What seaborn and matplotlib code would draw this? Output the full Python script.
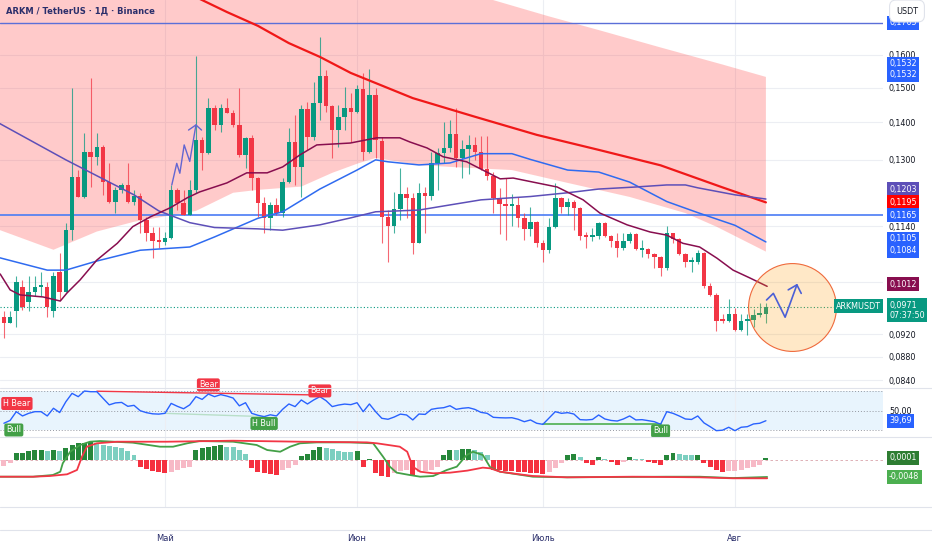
import numpy as np
import pandas as pd
import seaborn as sns
import matplotlib.pyplot as plt
from matplotlib.lines import Line2D
from matplotlib.ticker import NullLocator

# ---- data (ARKM/USDT, daily) ----
dates = pd.date_range("2025-04-05", "2025-08-06", freq="D")

opens = [
    0.0953, 0.0942, 0.0963, 0.1011, 0.0982, 0.1001, 0.1010, 0.1011, 0.0963, 0.1042,
    0.1001, 0.1131, 0.1257, 0.1209, 0.1321, 0.1308, 0.1334, 0.1245, 0.1197, 0.1225,
    0.1237, 0.1197, 0.1210, 0.1154, 0.1125, 0.1108, 0.1104, 0.1113, 0.1225, 0.1193,
    0.1166, 0.1225, 0.1352, 0.1317, 0.1440, 0.1393, 0.1440, 0.1427, 0.1393, 0.1313,
    0.1357, 0.1253, 0.1193, 0.1158, 0.1189, 0.1170, 0.1243, 0.1348, 0.1281, 0.1437,
    0.1361, 0.1456, 0.1535, 0.1446, 0.1379, 0.1414, 0.1441, 0.1430, 0.1495, 0.1321,
    0.1478, 0.1350, 0.1162, 0.1140, 0.1179, 0.1215, 0.1205, 0.1103, 0.1217, 0.1211,
    0.1291, 0.1317, 0.1331, 0.1368, 0.1304, 0.1328, 0.1339, 0.1321, 0.1276, 0.1259,
    0.1205, 0.1191, 0.1187, 0.1190, 0.1158, 0.1134, 0.1150, 0.1102, 0.1088, 0.1139,
    0.1205, 0.1185, 0.1195, 0.1181, 0.1119, 0.1115, 0.1117, 0.1148, 0.1117, 0.1106,
    0.1091, 0.1107, 0.1123, 0.1088, 0.1090, 0.1079, 0.1072, 0.1049, 0.1124, 0.1112,
    0.1079, 0.1061, 0.1061, 0.1082, 0.1013, 0.0995, 0.0946, 0.0944, 0.0959, 0.0928,
    0.0944, 0.0946, 0.0956, 0.0959]
highs = [
    0.0963, 0.0963, 0.1032, 0.1025, 0.1032, 0.1032, 0.1042, 0.1021, 0.1042, 0.1080,
    0.1147, 0.1498, 0.1274, 0.1370, 0.1528, 0.1370, 0.1339, 0.1291, 0.1233, 0.1241,
    0.1291, 0.1225, 0.1217, 0.1162, 0.1139, 0.1139, 0.1128, 0.1237, 0.1229, 0.1225,
    0.1249, 0.1597, 0.1361, 0.1469, 0.1449, 0.1452, 0.1469, 0.1435, 0.1498, 0.1361,
    0.1366, 0.1257, 0.1209, 0.1197, 0.1205, 0.1253, 0.1384, 0.1421, 0.1449, 0.1459,
    0.1518, 0.1657, 0.1553, 0.1449, 0.1449, 0.1503, 0.1483, 0.1508, 0.1543, 0.1555,
    0.1498, 0.1359, 0.1177, 0.1221, 0.1279, 0.1233, 0.1217, 0.1241, 0.1233, 0.1321,
    0.1330, 0.1402, 0.1407, 0.1440, 0.1352, 0.1366, 0.1361, 0.1363, 0.1363, 0.1270,
    0.1229, 0.1253, 0.1215, 0.1209, 0.1170, 0.1185, 0.1151, 0.1109, 0.1158, 0.1241,
    0.1209, 0.1206, 0.1201, 0.1185, 0.1128, 0.1135, 0.1150, 0.1150, 0.1120, 0.1124,
    0.1124, 0.1128, 0.1124, 0.1109, 0.1091, 0.1080, 0.1074, 0.1140, 0.1125, 0.1113,
    0.1081, 0.1073, 0.1088, 0.1084, 0.1018, 0.0999, 0.0959, 0.0986, 0.0969, 0.0959,
    0.0959, 0.0967, 0.0979, 0.0980]
lows = [
    0.0913, 0.0941, 0.0934, 0.0966, 0.0963, 0.0992, 0.0992, 0.0953, 0.0953, 0.0985,
    0.1000, 0.1109, 0.1208, 0.1205, 0.1233, 0.1287, 0.1213, 0.1193, 0.1170, 0.1217,
    0.1193, 0.1189, 0.1124, 0.1106, 0.1070, 0.1091, 0.1098, 0.1112, 0.1177, 0.1165,
    0.1165, 0.1217, 0.1274, 0.1316, 0.1379, 0.1375, 0.1426, 0.1388, 0.1308, 0.1279,
    0.1225, 0.1162, 0.1124, 0.1131, 0.1166, 0.1162, 0.1241, 0.1237, 0.1209, 0.1326,
    0.1352, 0.1407, 0.1430, 0.1304, 0.1334, 0.1379, 0.1348, 0.1426, 0.1300, 0.1317,
    0.1304, 0.1102, 0.1063, 0.1124, 0.1154, 0.1158, 0.1079, 0.1102, 0.1124, 0.1201,
    0.1225, 0.1291, 0.1321, 0.1283, 0.1253, 0.1264, 0.1300, 0.1274, 0.1249, 0.1170,
    0.1123, 0.1109, 0.1140, 0.1139, 0.1109, 0.1117, 0.1095, 0.1061, 0.1082, 0.1135,
    0.1170, 0.1166, 0.1131, 0.1109, 0.1091, 0.1106, 0.1111, 0.1116, 0.1095, 0.1072,
    0.1088, 0.1103, 0.1088, 0.1073, 0.1070, 0.1049, 0.1032, 0.1045, 0.1103, 0.1077,
    0.1052, 0.1042, 0.1058, 0.1008, 0.0992, 0.0926, 0.0942, 0.0943, 0.0927, 0.0927,
    0.0919, 0.0934, 0.0953, 0.0942]
closes = [
    0.0942, 0.0952, 0.1021, 0.0972, 0.1001, 0.1011, 0.1013, 0.0972, 0.1032, 0.1001,
    0.1131, 0.1257, 0.1209, 0.1321, 0.1308, 0.1334, 0.1245, 0.1197, 0.1225, 0.1237,
    0.1197, 0.1210, 0.1154, 0.1125, 0.1108, 0.1104, 0.1113, 0.1225, 0.1193, 0.1166,
    0.1225, 0.1352, 0.1317, 0.1440, 0.1393, 0.1440, 0.1427, 0.1393, 0.1313, 0.1357,
    0.1253, 0.1193, 0.1158, 0.1189, 0.1170, 0.1243, 0.1348, 0.1281, 0.1437, 0.1361,
    0.1456, 0.1535, 0.1446, 0.1379, 0.1414, 0.1441, 0.1430, 0.1495, 0.1321, 0.1478,
    0.1352, 0.1162, 0.1140, 0.1179, 0.1215, 0.1205, 0.1103, 0.1217, 0.1211, 0.1291,
    0.1317, 0.1331, 0.1368, 0.1304, 0.1328, 0.1339, 0.1321, 0.1276, 0.1259, 0.1205,
    0.1191, 0.1187, 0.1190, 0.1158, 0.1134, 0.1150, 0.1102, 0.1088, 0.1139, 0.1205,
    0.1185, 0.1195, 0.1181, 0.1119, 0.1115, 0.1117, 0.1148, 0.1117, 0.1106, 0.1091,
    0.1107, 0.1123, 0.1089, 0.1090, 0.1079, 0.1073, 0.1049, 0.1124, 0.1112, 0.1079,
    0.1061, 0.1063, 0.1082, 0.1013, 0.0995, 0.0945, 0.0944, 0.0959, 0.0928, 0.0944,
    0.0947, 0.0956, 0.0959, 0.0971]

rsi = [
    37.1, 40.0, 49.0, 44.6, 47.3, 49.0, 49.0, 44.6, 52.5, 48.1,
    59.2, 67.8, 64.4, 70.2, 69.5, 69.5, 62.7, 56.0, 58.0, 58.5,
    54.5, 55.5, 50.0, 48.0, 46.8, 46.5, 47.3, 57.5, 54.5, 52.0,
    56.0, 64.4, 61.6, 67.1, 64.4, 66.5, 65.0, 63.0, 55.0, 58.2,
    47.3, 45.3, 43.9, 45.8, 44.6, 51.5, 56.9, 54.2, 61.0, 56.9,
    61.0, 64.4, 60.3, 54.2, 55.8, 56.8, 56.2, 58.2, 49.0, 56.9,
    49.0, 42.2, 41.2, 43.5, 46.5, 45.6, 40.5, 46.6, 46.2, 51.4,
    52.5, 53.1, 55.1, 51.4, 52.5, 53.1, 51.4, 48.3, 47.3, 43.2,
    42.8, 42.6, 42.8, 41.2, 38.7, 40.5, 37.1, 36.0, 42.5, 49.0,
    47.3, 48.0, 46.6, 40.8, 40.5, 41.0, 45.6, 41.5, 40.0, 39.4,
    41.5, 44.6, 40.5, 40.8, 39.8, 38.7, 36.0, 49.0, 47.3, 44.6,
    41.5, 41.0, 44.6, 37.5, 33.6, 29.5, 30.0, 33.0, 29.5, 33.0,
    33.6, 36.4, 37.1, 39.69]

# MACD histogram, in units of 0.001
hist = [
    -1.7, -0.9, 2.1, 2.1, 2.5, 2.8, 2.8, 2.5, 2.8, 2.6,
    3.5, 4.2, 4.7, 4.9, 5.0, 4.7, 4.2, 4.0, 3.6, 3.3,
    2.6, 1.4, -2.1, -2.6, -3.1, -3.3, -3.8, -3.3, -2.8, -2.4,
    -1.9, 2.8, 3.3, 3.8, 4.0, 4.1, 3.8, 3.7, 2.8, 1.7,
    -2.4, -3.3, -3.8, -4.0, -4.1, -2.8, -2.4, -1.4, 1.1, 1.7,
    2.8, 3.6, 3.3, 3.0, 2.6, 2.4, 2.3, 2.6, -1.9, 0.2,
    -3.8, -4.5, -4.7, -3.8, -3.0, -2.8, -4.2, -3.3, -3.1, -2.8,
    -1.9, 1.5, 2.8, 2.7, 3.0, 3.1, 2.8, 2.4, 1.4, -2.8,
    -2.9, -3.0, -3.1, -3.3, -3.4, -3.6, -3.8, -3.9, -3.3, -2.4,
    -0.9, 1.4, 1.7, 0.9, -0.8, -1.4, 0.8, 0.3, -0.5, -1.4,
    -0.5, 0.9, 0.3, 0.2, -0.5, -0.8, -1.4, 1.4, 2.1, 1.7,
    1.5, 1.4, 1.5, -0.9, -1.9, -2.8, -3.3, -3.2, -3.1, -2.8,
    -2.4, -1.9, -1.4, 0.6]

# indicator lines, sampled: day offset from 1 May -> value
red_ma_day = [4, 10, 15, 20, 25, 30, 40, 50, 60, 70, 80, 90, 97]
red_ma_val = [0.1805, 0.1742, 0.1695, 0.1638, 0.1594, 0.1544, 0.1469, 0.1416,
              0.1366, 0.1326, 0.1286, 0.1231, 0.1195]

blue_ma_day = [-27, -19, -16, -11, -4, 4, 8, 15, 19, 25, 31, 34, 36, 41, 46, 51,
               56, 59, 65, 70, 75, 81, 86, 92, 97]
blue_ma_val = [0.1072, 0.1045, 0.1045, 0.1064, 0.1087, 0.1094, 0.1116, 0.1158,
               0.1173, 0.1227, 0.1274, 0.1300, 0.1295, 0.1287, 0.1292, 0.1316,
               0.1316, 0.1301, 0.1274, 0.1269, 0.1244, 0.1197, 0.1171, 0.1142, 0.1105]

purple_ma_day = [-27, -16, -5, -1, 4, 8, 15, 19, 25, 30, 34, 41, 46, 51, 56, 59,
                 65, 70, 76, 81, 84, 86, 92, 97]
purple_ma_val = [0.1400, 0.1300, 0.1213, 0.1175, 0.1148, 0.1137, 0.1134, 0.1131,
                 0.1143, 0.1159, 0.1173, 0.1177, 0.1189, 0.1201, 0.1206, 0.1209,
                 0.1218, 0.1227, 0.1232, 0.1237, 0.1237, 0.1230, 0.1213, 0.1203]

maroon_ma_day = [-26.6, -25.0, -23.4, -19.7, -16.9, -15.8, -13.7, -11.0, -7.7, -5.2,
                 -2.4, 0.8, 3.6, 5.6, 10.0, 13.2, 16.5, 19.0, 21.8, 24.5, 29.9,
                 34.2, 37.9, 39.5, 42.3, 44.9, 48.7, 51.3, 54.1, 56.2, 59.4, 63.3,
                 67.5, 70.2, 74.6, 78.3, 81.0, 83.6, 86.3, 89.1, 91.7, 94.4, 97.2]
maroon_ma_val = [0.1037, 0.1005, 0.0995, 0.0991, 0.0983, 0.0999, 0.1025, 0.1066,
                 0.1102, 0.1139, 0.1161, 0.1182, 0.1206, 0.1220, 0.1242, 0.1267,
                 0.1267, 0.1282, 0.1313, 0.1339, 0.1344, 0.1358, 0.1358, 0.1347,
                 0.1331, 0.1308, 0.1295, 0.1274, 0.1252, 0.1254, 0.1244, 0.1232,
                 0.1201, 0.1170, 0.1143, 0.1127, 0.1120, 0.1102, 0.1094, 0.1070,
                 0.1045, 0.1029, 0.1012]

band_up_day = [-27, 52, 62, 70, 80, 90, 97]
band_up_val = [0.2000, 0.1790, 0.1727, 0.1681, 0.1624, 0.1570, 0.1532]
band_lo_day = [-27, -18, -11, -5, 5, 11, 15, 22, 27, 31, 34, 41, 46, 56, 65, 75, 84, 89, 97]
band_lo_val = [0.1133, 0.1088, 0.1128, 0.1150, 0.1175, 0.1218, 0.1225, 0.1233,
               0.1267, 0.1290, 0.1305, 0.1287, 0.1282, 0.1274, 0.1242, 0.1208,
               0.1170, 0.1139, 0.1084]

macd_day = [-26.6, -21.3, -18.1, -16.9, -16.5, -15.3, -13.7, -12.1, -10.5, -5.2,
            -0.8, 1.3, 3.6, 5.6, 11.0, 14.8, 16.5, 18.6, 20.2, 21.8, 24.5, 29.9,
            33.6, 35.2, 36.3, 37.4, 39.5, 41.2, 43.3, 45.5, 47.1, 48.7, 49.7, 51.3,
            52.5, 54.1, 59.4, 64.9, 81.0, 86.3, 91.7, 97.2]
macd_val = [-4.72, -4.72, -4.24, -3.31, -0.93, 2.34, 4.24, 5.17, 5.36, 4.90,
            3.76, 3.76, 4.72, 5.36, 5.17, 4.24, 2.82, 2.34, 3.76, 4.72, 4.98, 4.98,
            4.72, 0.93, -1.89, -3.58, -4.24, -4.72, -4.52, -2.82, -1.89, 1.41, 2.34,
            1.41, -2.07, -3.31, -4.72, -4.89, -4.72, -4.72, -5.10, -4.80]
signal_day = [-26.6, -21.3, -18.6, -15.8, -14.2, -13.4, -12.6, -11.0, -7.7, 0.3,
              11.0, 21.8, 27.1, 32.6, 34.2, 37.9, 39.1, 40.0, 41.2, 43.3, 46.0,
              48.8, 51.3, 52.5, 54.1, 56.8, 59.4, 64.9, 75.5, 86.3, 91.7, 97.2]
signal_val = [-4.72, -4.72, -4.52, -4.04, -2.82, 0.93, 3.76, 4.72, 5.17, 5.17,
              5.45, 5.17, 5.08, 4.98, 4.72, 3.76, 2.34, -1.89, -3.31, -3.76, -3.58,
              -3.00, -2.16, -2.35, -3.31, -3.95, -4.52, -4.89, -4.72, -4.89, -5.17, -5.17]

month_starts = ["2025-05-01", "2025-06-01", "2025-07-01", "2025-08-01"]
month_labels = ["Май", "Июн", "Июль", "Авг"]
price_ticks = [0.1600, 0.1500, 0.1400, 0.1300, 0.1140, 0.1020, 0.0920, 0.0880, 0.0840]

# hand drawings on the chart (day, price)
zig1_day = [1.1, 1.9, 2.4, 3.1, 4.0, 5.0]
zig1_val = [0.1237, 0.1291, 0.1266, 0.1339, 0.1296, 0.1393]
zig2_day = [97.1, 98.2, 100.1, 102.0]
zig2_val = [0.0985, 0.0998, 0.0952, 0.1015]

GREEN, RED, BLUE = "#089981", "#f23645", "#2962ff"
GRID, TEXT, NAVY = "#eceef3", "#131722", "#2a2e6b"

sns.set_theme(style="white")
plt.rcParams["font.family"] = ["DejaVu Sans"]

day0 = pd.Timestamp("2025-05-01")
df = pd.DataFrame({"open": opens, "high": highs, "low": lows, "close": closes,
                   "rsi": rsi, "hist": hist}, index=dates)
df["x"] = (df.index - day0).days
mdays = [(pd.Timestamp(m) - day0).days for m in month_starts]


def fmt(v, nd=4):
    return f"{v:.{nd}f}".replace(".", ",")


W, H = 932, 550
PW = 883 / W


def frame(top, bottom):
    return [0, 1 - bottom / H, PW, (bottom - top) / H]


fig = plt.figure(figsize=(9.32, 5.5), dpi=100)
ax = fig.add_axes(frame(0, 388))
ax_rsi = fig.add_axes(frame(388, 437))
ax_macd = fig.add_axes(frame(437, 507))
ax_t = fig.add_axes(frame(507, 530))

for a in (ax, ax_rsi, ax_macd, ax_t):
    for s in a.spines.values():
        s.set_visible(False)
    a.set_xticks(mdays)
    a.tick_params(length=0, labelbottom=False, labelleft=False)
    a.set_axisbelow(True)


def tag(axis, y, text, fc, dy=0):
    axis.annotate(text, xy=(1, y), xycoords=("axes fraction", "data"),
                  xytext=(6, dy), textcoords="offset pixels", ha="left", va="center",
                  fontsize=5.8, color="white", annotation_clip=False, zorder=10,
                  bbox=dict(boxstyle="square,pad=0.3", fc=fc, ec="none"))


# ---- main price pane ----
ax.set_yscale("log")
ax.fill(np.r_[band_up_day, band_lo_day[::-1]], np.r_[band_up_val, band_lo_val[::-1]],
        color="#ff5252", alpha=0.3, lw=0, zorder=1)
ax.axhline(0.1705, color="#5b6fd8", lw=1.0, zorder=3)
ax.axhline(0.1165, color="#4a7cf5", lw=1.2, zorder=3)
ax.axhline(closes[-1], color=GREEN, lw=0.8, ls=(0, (1, 2)), zorder=3)

up = df["close"] >= df["open"]
ccol = np.where(up, GREEN, RED)
body_lo = np.minimum(df["open"], df["close"])
body_h = np.maximum((df["close"] - df["open"]).abs(), body_lo * 0.004)
ax.vlines(df["x"], df["low"], df["high"], colors=ccol, lw=0.8, alpha=0.75, zorder=4)
ax.bar(df["x"], body_h, bottom=body_lo, width=0.72, color=ccol, lw=0, zorder=5)

sns.lineplot(x=red_ma_day, y=red_ma_val, ax=ax, color="#f01818", lw=1.6, zorder=6)
sns.lineplot(x=blue_ma_day, y=blue_ma_val, ax=ax, color="#2f6bf0", lw=1.1, zorder=6)
sns.lineplot(x=purple_ma_day, y=purple_ma_val, ax=ax, color="#5d4fb8", lw=1.1, zorder=6)
sns.lineplot(x=maroon_ma_day, y=maroon_ma_val, ax=ax, color="#880e4f", lw=1.1, zorder=6)

ax.scatter([101.2], [0.0971], s=4000, facecolor=(1.0, 0.6, 0.0, 0.22),
           edgecolor="#ef6a3c", lw=0.8, zorder=7)
ax.plot(zig1_day, zig1_val, color="#6366d1", lw=1.0, zorder=8)
ax.plot([3.8, 5.0, 5.9], [0.1379, 0.1393, 0.1379], color="#6366d1", lw=1.0, zorder=8)
ax.plot(zig2_day, zig2_val, color="#4b5fd6", lw=1.2, zorder=8)
ax.plot([100.6, 102.0, 102.7], [0.1005, 0.1015, 0.0998], color="#4b5fd6", lw=1.2, zorder=8)

ax.set_xlim(-26.63, 115.9)
ax.set_ylim(0.08275, 0.1784)
ax.yaxis.tick_right()
ax.set_yticks(price_ticks)
ax.set_yticklabels([fmt(v) for v in price_ticks])
ax.yaxis.set_minor_locator(NullLocator())
ax.tick_params(axis="y", labelright=True, labelsize=5.8, labelcolor=TEXT, pad=4.3)
ax.grid(True, color=GRID, lw=0.8)
ax.set(xlabel=None, ylabel=None)

tag(ax, 0.1705, "0,1705", BLUE)
tag(ax, 0.1532, "0,1532", BLUE, dy=13)
tag(ax, 0.1532, "0,1532", BLUE, dy=2)
tag(ax, 0.1203, "0,1203", "#5d4fb8", dy=10)
tag(ax, 0.1195, "0,1195", "#ff0000")
tag(ax, 0.1165, "0,1165", BLUE)
tag(ax, 0.1105, "0,1105", BLUE, dy=3)
tag(ax, 0.1084, "0,1084", BLUE, dy=1)
tag(ax, 0.1012, "0,1012", "#880e4f", dy=2)
tag(ax, closes[-1], fmt(closes[-1]) + "\n07:37:50", GREEN, dy=-3)
ax.annotate("ARKMUSDT", xy=(1, closes[-1]), xycoords=("axes fraction", "data"),
            xytext=(-2, 1), textcoords="offset pixels", ha="right", va="center",
            fontsize=5.8, color="white", annotation_clip=False, zorder=10,
            bbox=dict(boxstyle="square,pad=0.3", fc=GREEN, ec="none"))

# ---- RSI pane ----
ax_rsi.axhspan(30, 70, color="#2196f3", alpha=0.1, lw=0, zorder=0)
for lvl in (70, 50, 30):
    ax_rsi.axhline(lvl, color="#9598a1", lw=0.7, ls=(0, (1, 2)), zorder=1)
sns.lineplot(x=df["x"], y=df["rsi"], ax=ax_rsi, color=BLUE, lw=1.0, zorder=4)
ax_rsi.plot([-11, 24], [70.0, 66.2], color=RED, lw=1.0, zorder=3)
ax_rsi.plot([0, 16], [47.3, 43.9], color="#4caf50", lw=1.0, alpha=0.3, zorder=3)
ax_rsi.plot([61, 80], [36.0, 36.0], color="#4caf50", lw=1.2, zorder=3)


def div_tag(x, y, text, fc):
    ax_rsi.text(x, y, text, ha="center", va="center", fontsize=5.8, color="white",
                zorder=9, bbox=dict(boxstyle="round,pad=0.25", fc=fc, ec="none"))


div_tag(-23.9, 57.4, "H Bear", RED)
div_tag(7, 76.5, "Bear", RED)
div_tag(25, 70.3, "Bear", RED)
div_tag(-24.4, 30.2, "Bull", "#43a047")
div_tag(16, 36.9, "H Bull", "#43a047")
div_tag(80, 29.2, "Bull", "#43a047")

ax_rsi.set_xlim(-26.63, 115.9)
ax_rsi.set_ylim(23.0, 73.3)
ax_rsi.yaxis.tick_right()
ax_rsi.set_yticks([50])
ax_rsi.set_yticklabels(["50,00"])
ax_rsi.tick_params(axis="y", labelright=True, labelsize=5.8, labelcolor=TEXT, pad=4.3)
ax_rsi.grid(True, axis="x", color=GRID, lw=0.8)
ax_rsi.set(xlabel=None, ylabel=None)
tag(ax_rsi, rsi[-1], fmt(rsi[-1], 2), BLUE)

# ---- MACD-style oscillator pane ----
h = np.array(hist)
prev = np.r_[h[0], h[:-1]]
hcol = np.where(h >= 0, np.where(h >= prev, "#26873a", "#7ccfc0"),
                np.where(h < prev, "#f5303f", "#f7b9c6"))
ax_macd.axhline(0, color="#d9a3ab", lw=0.6, ls=(0, (3, 3)), zorder=1)
ax_macd.bar(df["x"], h, width=0.8, color=hcol, lw=0, zorder=2)
sns.lineplot(x=macd_day, y=macd_val, ax=ax_macd, color="#43a047", lw=1.3, zorder=4)
sns.lineplot(x=signal_day, y=signal_val, ax=ax_macd, color=RED, lw=1.3, zorder=5)
ax_macd.set_xlim(-26.63, 115.9)
ax_macd.set_ylim(-13.28, 6.5)
ax_macd.set_yticks([])
ax_macd.grid(True, axis="x", color=GRID, lw=0.8)
ax_macd.set(xlabel=None, ylabel=None)
tag(ax_macd, 0.1, "0,0001", "#2e7d32", dy=2)
tag(ax_macd, -4.8, "-0,0048", "#4caf50")

# ---- time axis ----
ax_t.set_xlim(-26.63, 115.9)
ax_t.set_yticks([])
ax_t.set_xticklabels(month_labels)
ax_t.tick_params(axis="x", labelbottom=True, labelsize=6, labelcolor=NAVY, pad=3)

for yy in (388, 437, 507, 530):
    fig.add_artist(Line2D([0, 1], [1 - yy / H] * 2, color="#e0e3eb", lw=0.8))

fig.text(6 / W, 1 - 11 / H, "ARKM / TetherUS · 1Д · Binance", fontsize=6,
         color=NAVY, weight="bold", va="center", ha="left")
fig.text(907 / W, 1 - 11 / H, "USDT", fontsize=5.8, color=TEXT, va="center",
         ha="center", zorder=20,
         bbox=dict(boxstyle="round,pad=0.8", fc="white", ec="#e0e3eb", lw=0.8))

fig.savefig("out.png", dpi=100)
